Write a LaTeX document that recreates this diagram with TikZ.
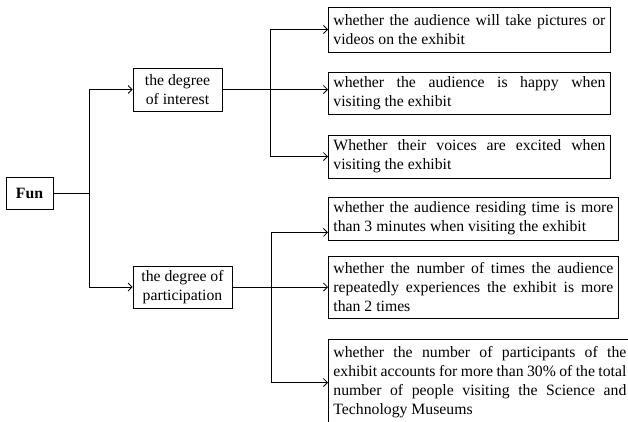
\documentclass[tikz,border=0pt]{standalone}
\usepackage{fontspec}
\setmainfont{Liberation Serif}
\usetikzlibrary{arrows.meta}
\hyphenpenalty=10000
\tolerance=9999
\begin{document}
\begin{tikzpicture}[x=1bp,y=-1bp,
  txt/.style={font=\fontsize{15.8}{19}\selectfont},
  box/.style={draw, line width=0.8bp, txt, inner xsep=5bp, inner ysep=0pt},
  hub/.style={box, align=center, inner xsep=0pt},
  leaf/.style={box, align=justify, anchor=west},
  link/.style={line width=0.8bp},
  arr/.style={link, -{Straight Barb[length=4bp,width=8bp]}}
]
\useasboundingbox (0,0) rectangle (628,421);

% root and the two criteria
\node[hub, minimum width=47bp, minimum height=32bp] (fun) at (29.5,193) {\textbf{Fun}};
\node[hub, minimum width=89bp, minimum height=43bp] (interest) at (177.5,89.5) {the degree\\of interest};
\node[hub, minimum width=99bp, minimum height=42bp] (partic) at (182.5,287) {the degree of\\participation};

% indicators of interest
\node[leaf, text width=272bp, minimum height=45bp] (b1) at (328,29.5)
  {whether the audience will take pictures or\linebreak videos on the exhibit};
\node[leaf, text width=272bp, minimum height=42bp] (b2) at (328,93)
  {whether the audience is happy when\linebreak visiting the exhibit};
\node[leaf, text width=272bp, minimum height=43bp] (b3) at (328,156.5)
  {Whether their voices are excited when\linebreak visiting the exhibit};

% indicators of participation
\node[leaf, text width=280bp, minimum height=43bp] (b4) at (328,218.5)
  {whether the audience residing time is more\linebreak than 3 minutes when visiting the exhibit};
\node[leaf, text width=280bp, minimum height=62bp] (b5) at (328,287)
  {whether the number of times the audience\linebreak repeatedly experiences the exhibit is more\linebreak than 2 times};
\node[leaf, text width=293bp, minimum height=86bp] (b6) at (328,382.5)
  {whether the number of participants of the\linebreak exhibit accounts for more than 30\% of the total\linebreak number of people visiting the Science and\linebreak Technology Museums};

% junction points
\coordinate (j0) at (89,193);
\path (interest.east) -- ++(48,0) coordinate (j1);
\path (partic.east) -- ++(39,0) coordinate (j2);

% connectors
\draw[link] (fun.east) -- (j0);
\draw[arr] (j0) |- (interest.west);
\draw[arr] (j0) |- (partic.west);

\draw[arr] (interest.east) -- (interest.east -| b2.west);
\draw[arr] (j1) |- (b1.west);
\draw[arr] (j1) |- (b3.west);

\draw[arr] (partic.east) -- (partic.east -| b5.west);
\draw[arr] (j2) |- ([yshift=8bp]b4.south west);
\draw[arr] (j2) |- (b6.west);
\end{tikzpicture}
\end{document}
